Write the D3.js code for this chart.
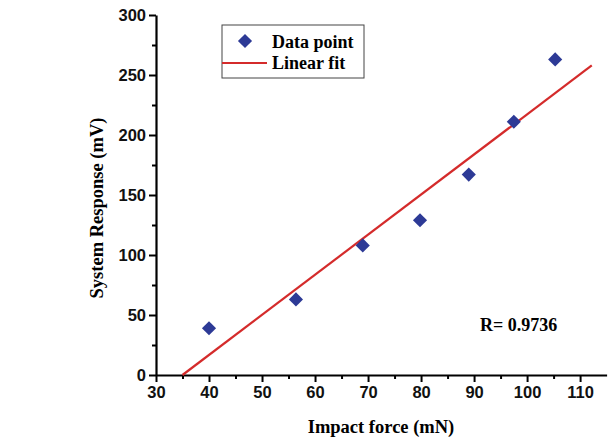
<!DOCTYPE html>
<html><head><meta charset="utf-8">
<script src="https://cdn.jsdelivr.net/npm/d3@7"></script>
<style>body{margin:0;background:#fff}svg{display:block}</style>
</head><body>
<script>
const forces = [40, 56.4, 69, 79.8, 89, 97.5, 105.3];
const responses = [39, 63, 108, 129, 167, 211, 263];
const fitX = [35, 112.2];
const fitY = [0, 258];
const xTicks = [30, 40, 50, 60, 70, 80, 90, 100, 110];
const yTicks = [0, 50, 100, 150, 200, 250, 300];
const rText = "R= 0.9736";

const W = 608, H = 439;
const svg = d3.select("body").append("svg").attr("width", W).attr("height", H);
const x = d3.scaleLinear().domain([30, 115]).range([156, 606.6]);
const y = d3.scaleLinear().domain([0, 300]).range([375, 15]);

// minor ticks
const xMinor = d3.range(35, 115, 10);
const yMinor = d3.range(25, 300, 50);
svg.append("g").attr("transform", "translate(0,375)")
  .call(d3.axisBottom(x).tickValues(xMinor).tickSize(4).tickFormat(""))
  .call(g => g.select(".domain").remove())
  .selectAll("line").attr("stroke-width", 2);
svg.append("g").attr("transform", "translate(156,0)")
  .call(d3.axisLeft(y).tickValues(yMinor).tickSize(4).tickFormat(""))
  .call(g => g.select(".domain").remove())
  .selectAll("line").attr("stroke-width", 2);

const xa = svg.append("g").attr("transform", "translate(0,375)")
  .call(d3.axisBottom(x).tickValues(xTicks).tickSize(7).tickSizeOuter(0).tickPadding(4));
const ya = svg.append("g").attr("transform", "translate(156,0)")
  .call(d3.axisLeft(y).tickValues(yTicks).tickSize(7).tickSizeOuter(0).tickPadding(3));
[xa, ya].forEach(a => {
  a.select(".domain").attr("stroke-width", 2.2).attr("stroke", "#000");
  a.selectAll("line").attr("stroke-width", 2).attr("stroke", "#000");
  a.selectAll("text").attr("font-family", "Liberation Sans, Arial, sans-serif")
    .attr("font-weight", "bold").attr("font-size", 16.5).attr("fill", "#111");
});

// fit line
svg.append("line")
  .attr("x1", x(fitX[0])).attr("y1", y(fitY[0]))
  .attr("x2", x(fitX[1])).attr("y2", y(fitY[1]))
  .attr("stroke", "#d42b2b").attr("stroke-width", 2.2);

// points
const diamond = d3.symbol().type(d3.symbolSquare).size(100);
svg.append("g").selectAll("path").data(forces.map((f, i) => [f, responses[i]]))
  .join("path")
  .attr("d", diamond)
  .attr("transform", d => `translate(${x(d[0])},${y(d[1])}) rotate(45)`)
  .attr("fill", "#2d3a96");

// legend
const lg = svg.append("g");
lg.append("rect").attr("x", 222).attr("y", 25).attr("width", 142).attr("height", 53)
  .attr("fill", "#fff").attr("stroke", "#444").attr("stroke-width", 1);
lg.append("path").attr("d", diamond).attr("transform", "translate(245,41) rotate(45)").attr("fill", "#2d3a96");
lg.append("line").attr("x1", 222).attr("x2", 267).attr("y1", 63).attr("y2", 63)
  .attr("stroke", "#d42b2b").attr("stroke-width", 2.2);
const serif = "Liberation Serif, Times New Roman, serif";
lg.append("text").attr("x", 272).attr("y", 48).text("Data point")
  .attr("font-family", serif).attr("font-weight", "bold").attr("font-size", 18);
lg.append("text").attr("x", 272).attr("y", 69).text("Linear fit")
  .attr("font-family", serif).attr("font-weight", "bold").attr("font-size", 18);

svg.append("text").attr("x", 480).attr("y", 331).text(rText)
  .attr("font-family", serif).attr("font-weight", "bold").attr("font-size", 18);

svg.append("text").attr("x", 381).attr("y", 433).attr("text-anchor", "middle")
  .text("Impact force (mN)")
  .attr("font-family", serif).attr("font-weight", "bold").attr("font-size", 18.5);
svg.append("text").attr("transform", "translate(103,208) rotate(-90)").attr("text-anchor", "middle")
  .text("System Response (mV)")
  .attr("font-family", serif).attr("font-weight", "bold").attr("font-size", 18.5);
</script>
</body></html>
